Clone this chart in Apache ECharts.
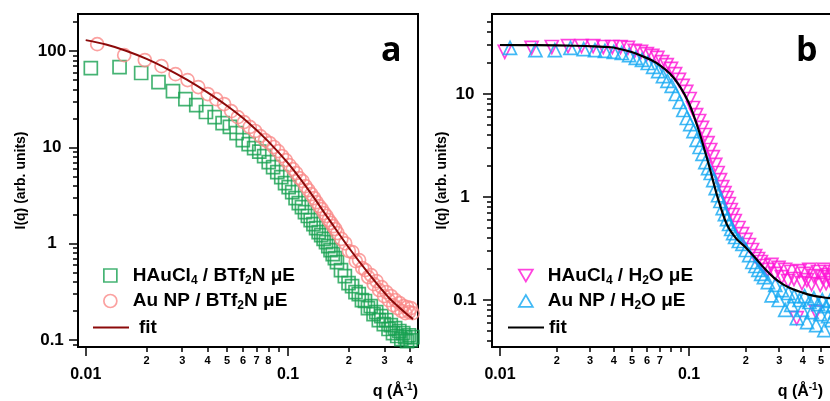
<!DOCTYPE html>
<html><head><meta charset="utf-8">
<script src="https://cdn.jsdelivr.net/npm/echarts@6/dist/echarts.min.js"></script>
<style>html,body{margin:0;padding:0;background:#fff}#c{width:830px;height:401px}</style>
</head><body><div id="c"></div>
<script>
// ---------- Panel a (BTf2N microemulsion) ----------
const qGreenA = [0.0106,0.0147,0.0188,0.0229,0.0270,0.0311,0.0352,0.0393,0.0434,0.0475,0.0516,0.0557,0.0598,0.0639,0.0680,0.0721,0.0762,0.0803,0.0844,0.0885,0.0926,0.0967,0.1008,0.1049,0.1090,0.1131,0.1172,0.1213,0.1254,0.1295,0.1336,0.1377,0.1418,0.1459,0.1500,0.1541,0.1582,0.1623,0.1664,0.1705,0.1746,
  0.1828,0.1910,0.1992,0.2074,0.2156,0.2238,0.2320,0.2402,0.2484,0.2566,0.2648,0.2730,0.2812,0.2894,0.2976,0.3058,0.3140,0.3222,0.3304,0.3386,0.3468,0.3550,0.3632,0.3714,0.3796,0.3878,0.3960,0.4042,0.4124];
const iGreenA = [66.6,68.2,59.2,47.7,38.4,31.7,27.5,23.3,20.6,17.9,16.3,14.1,11.9,10.8,9.84,9.04,8.13,7.04,6.24,5.54,4.92,4.26,3.87,3.43,2.98,2.64,2.40,2.13,1.94,1.76,1.60,1.45,1.32,1.23,1.12,1.04,0.944,0.858,0.780,0.708,0.644,
  0.532,0.461,0.390,0.363,0.314,0.300,0.260,0.254,0.214,0.225,0.186,0.195,0.161,0.177,0.146,0.161,0.130,0.143,0.118,0.133,0.110,0.124,0.102,0.118,0.107,0.0974,0.112,0.0998,0.107];
const qPinkA = [0.0114,0.0155,0.0196,0.0237,0.0278,0.0319,0.0360,0.0401,0.0442,0.0483,0.0524,0.0565,0.0606,0.0647,0.0688,0.0729,0.0770,0.0811,0.0852,0.0893,0.0934,0.0975,0.1016,0.1057,0.1098,0.1139,0.1180,0.1221,0.1262,0.1303,0.1344,0.1385,0.1426,0.1467,0.1508,0.1549,0.1590,0.1631,0.1672,0.1713,0.1754,
  0.1836,0.1918,0.2000,0.2082,0.2164,0.2246,0.2328,0.2410,0.2492,0.2574,0.2656,0.2738,0.2820,0.2902,0.2984,0.3066,0.3148,0.3230,0.3312,0.3394,0.3476,0.3558,0.3640,0.3722,0.3804,0.3886,0.3968,0.4050,0.4132];
const iPinkA = [118,90.8,80.7,69.8,57.6,50.0,42.3,35.8,31.7,28.2,23.8,20.6,18.3,16.3,14.8,13.1,11.9,11.1,10.1,9.15,8.13,7.38,6.55,5.95,5.41,4.80,4.47,3.96,3.60,3.27,2.98,2.70,2.46,2.29,2.08,1.94,1.76,1.64,1.52,1.42,1.29,
  1.12,1.01,0.838,0.818,0.659,0.676,0.558,0.532,0.450,0.472,0.380,0.409,0.330,0.354,0.286,0.314,0.259,0.286,0.230,0.259,0.214,0.242,0.200,0.225,0.190,0.219,0.195,0.214,0.190];
const qFitA = [0.0100,0.0126,0.0158,0.0200,0.0251,0.0316,0.0398,0.0501,0.0631,0.0794,0.1000,0.1259,0.1585,0.1995,0.2512,0.3162,0.3981,0.4150];
const iFitA = [130,117,101,83.0,65.9,50.6,37.5,26.9,18.4,11.7,6.85,3.64,1.82,0.913,0.485,0.273,0.176,0.165];

// ---------- Panel b (H2O microemulsion) ----------
const qMagB = [0.0106,0.0147,0.0188,0.0229,0.0270,0.0311,0.0352,0.0393,0.0434,0.0475,0.0516,0.0557,0.0598,0.0639,0.0680,0.0721,0.0762,0.0803,0.0844,0.0885,0.0926,0.0967,0.1008,0.1049,0.1090,0.1131,0.1172,0.1213,0.1254,0.1295,0.1336,0.1377,0.1418,0.1459,0.1500,0.1541,0.1582,0.1623,0.1664,0.1705,0.1746,
  0.1828,0.1910,0.1992,0.2074,0.2156,0.2238,0.2320,0.2402,0.2484,
  0.2607,0.2730,0.2853,0.2976,0.3099,0.3222,0.3345,0.3468,0.3591,0.3714,0.3837,0.3960,0.4083,0.4206,0.4329,0.4452,0.4575,0.4698,0.4821,0.4944,0.5067,0.5190,0.5313,0.5436,0.5559,0.5682,0.5805,0.5928];
const iMagB = [25.6,28.0,28.6,29.2,29.2,29.2,28.6,28.6,28.6,28.0,26.2,25.6,24.4,23.4,22.4,20.4,19.1,17.5,15.6,13.7,12.0,10.5,8.94,7.31,6.25,5.47,4.68,4.00,3.34,2.86,2.44,2.05,1.71,1.46,1.25,1.09,0.978,0.855,0.748,0.669,0.585,
  0.500,0.437,0.383,0.342,0.306,0.267,0.250,0.234,0.214,
  0.196,0.219,0.179,0.205,0.167,0.196,0.153,0.187,0.160,0.0668,0.191,0.146,0.179,0.156,0.196,0.143,0.171,0.0764,0.187,0.140,0.167,0.196,0.146,0.175,0.156,0.187,0.137,0.171];
const qCyanB = [0.0113,0.0154,0.0195,0.0236,0.0277,0.0318,0.0359,0.0400,0.0441,0.0482,0.0523,0.0564,0.0605,0.0646,0.0687,0.0728,0.0769,0.0810,0.0851,0.0892,0.0933,0.0974,0.1015,0.1056,0.1097,0.1138,0.1179,0.1220,0.1261,0.1302,0.1343,0.1384,0.1425,0.1466,0.1507,0.1548,0.1589,0.1630,0.1671,0.1712,0.1753,
  0.1835,0.1917,0.1999,0.2081,0.2163,0.2245,0.2327,0.2409,0.2491,
  0.2614,0.2737,0.2860,0.2983,0.3106,0.3229,0.3352,0.3475,0.3598,0.3721,0.3844,0.3967,0.4090,0.4213,0.4336,0.4459,0.4582,0.4705,0.4828,0.4951,0.5074,0.5197,0.5320,0.5443,0.5566,0.5689,0.5812,0.5935];
const iCyanB = [28.0,26.7,26.7,28.0,27.3,26.7,26.2,25.6,25.0,23.9,22.4,21.4,20.0,18.3,16.7,14.9,13.4,12.0,10.0,8.36,6.99,5.85,5.11,4.37,3.58,3.06,2.62,2.18,1.91,1.71,1.46,1.22,1.04,0.915,0.781,0.683,0.611,0.547,0.489,0.447,0.409,
  0.374,0.350,0.306,0.273,0.234,0.214,0.196,0.179,0.167,
  0.149,0.111,0.140,0.100,0.125,0.0803,0.117,0.0897,0.109,0.0668,0.100,0.0803,0.109,0.0611,0.0956,0.0764,0.104,0.0571,0.0914,0.0730,0.100,0.0510,0.0874,0.0698,0.0978,0.0639,0.0897,0.0764];
const qFitB = [0.0100,0.0158,0.0251,0.0316,0.0398,0.0501,0.0562,0.0631,0.0708,0.0794,0.0891,0.1000,0.1122,0.1259,0.1413,0.1585,0.1778,0.1995,0.2239,0.2512,0.2818,0.3162,0.3548,0.3981,0.4467,0.5012,0.5623,0.6026];
const iFitB = [29.9,29.8,29.4,29.0,28.3,25.4,23.4,21.4,18.8,15.7,12.0,8.13,4.52,2.21,1.01,0.543,0.394,0.324,0.257,0.202,0.164,0.141,0.127,0.118,0.111,0.107,0.104,0.103];

// ---------- Axis ranges & tick values ----------
const xRangeA = [0.00916, 0.4392], yRangeA = [0.08458, 242.8];
const xRangeB = [0.009072, 0.5994], yRangeB = [0.03498, 59.8];
const xMajorA = [0.01, 0.1];
const xMinorA = [0.02,0.03,0.04,0.05,0.06,0.07,0.08,0.09,0.2,0.3,0.4];
const xMinorLabA = [0.02,0.03,0.04,0.05,0.06,0.07,0.08,0.2,0.3,0.4];
const yMajorA = [0.1, 1, 10, 100];
const yMinorA = [0.09,0.2,0.3,0.4,0.5,0.6,0.7,0.8,0.9,2,3,4,5,6,7,8,9,20,30,40,50,60,70,80,90,200];
const xMajorB = [0.01, 0.1];
const xMinorB = [0.02,0.03,0.04,0.05,0.06,0.07,0.08,0.09,0.2,0.3,0.4,0.5];
const xMinorLabB = [0.02,0.03,0.04,0.05,0.06,0.07,0.2,0.3,0.4,0.5];
const yMajorB = [0.1, 1, 10];
const yMinorB = [0.04,0.05,0.06,0.07,0.08,0.09,0.2,0.3,0.4,0.5,0.6,0.7,0.8,0.9,2,3,4,5,6,7,8,9,20,30,40,50];

const names = {
  gA: 'HAuCl4 / BTf2N μE', pA: 'Au NP / BTf2N μE', fA: 'fitA',
  mB: 'HAuCl4 / H2O μE', cB: 'Au NP / H2O μE', fB: 'fitB'
};
const richNames = {
  'HAuCl4 / BTf2N μE': '{n|HAuCl}{s|4}{n| / BTf}{s|2}{n|N μE}',
  'Au NP / BTf2N μE': '{n|Au NP / BTf}{s|2}{n|N μE}',
  'HAuCl4 / H2O μE': '{n|HAuCl}{s|4}{n| / H}{s|2}{n|O μE}',
  'Au NP / H2O μE': '{n|Au NP / H}{s|2}{n|O μE}',
  'fitA': '{n|fit}', 'fitB': '{n|fit}'
};

const C = { green:'#17a050', pink:'#fa8a88', dred:'#8c0a0a', mag:'#ff14d6', cyan:'#12a8f2' };
const FONT = 'Liberation Sans, Arial, sans-serif';
const NARROW = 'Liberation Sans Narrow, Liberation Sans, Arial, sans-serif';
const L = Math.log10;
const zip = (q, v) => q.slice(0, Math.min(q.length, v.length)).map((x, i) => [x, v[i]]);
const fmtMajor = v => String(parseFloat(Math.pow(10, v).toPrecision(3)));
const fmtMinor = v => { const t = Math.pow(10, v); return String(Math.round(t / Math.pow(10, Math.floor(L(t) + 1e-9)))); };

function logAxis(grid, r) { return { type:'log', gridIndex:grid, min:r[0], max:r[1], show:false }; }
function ovX(grid, r, ticks, labs, tlen, margin, fsize, family, fmt, extra) {
  return Object.assign({
    type:'value', gridIndex:grid, min:L(r[0]), max:L(r[1]), position:'bottom',
    axisLine:{show:false, onZero:false}, splitLine:{show:false},
    axisTick:{show:true, inside:false, length:tlen, customValues:ticks.map(L), lineStyle:{color:'#000', width:1.5}},
    axisLabel:{show:true, customValues:labs.map(L), margin:margin, formatter:fmt, fontSize:fsize, fontWeight:'bold', fontFamily:family, color:'#000'}
  }, extra || {});
}
function ovY(grid, r, ticks, labs, tlen, margin, fsize, fmt, extra) {
  return Object.assign({
    type:'value', gridIndex:grid, min:L(r[0]), max:L(r[1]), position:'left',
    axisLine:{show:false, onZero:false}, splitLine:{show:false},
    axisTick:{show:true, inside:false, length:tlen, customValues:ticks.map(L), lineStyle:{color:'#000', width:1.5}},
    axisLabel:{show:labs.length>0, customValues:labs.map(L), margin:margin, align:'center', formatter:fmt, fontSize:fsize, fontWeight:'bold', fontFamily:FONT, color:'#000'}
  }, extra || {});
}
const xName = {
  name:'{n|q (Å}{s|-1}{n|)}', nameLocation:'end',
  nameTextStyle:{align:'right', verticalAlign:'top', padding:[35,0,0,0],
    rich:{ n:{fontSize:16, fontWeight:'bold', fontFamily:FONT, color:'#000', lineHeight:20},
           s:{fontSize:10, fontWeight:'bold', fontFamily:FONT, color:'#000', lineHeight:10, verticalAlign:'top'} } }
};
const yNameStyle = {fontSize:14, fontWeight:'bold', fontFamily:FONT, color:'#000'};

const legText = {
  rich:{ n:{fontSize:19, fontWeight:'bold', fontFamily:FONT, color:'#000', lineHeight:22},
         s:{fontSize:12, fontWeight:'bold', fontFamily:FONT, color:'#000', lineHeight:12, verticalAlign:'bottom'} }
};
const legFmt = n => richNames[n] || n;
function emptyStyle(c){ return {color:'rgba(0,0,0,0)', borderColor:c, borderWidth:1.7}; }
const noSym = {color:'rgba(0,0,0,0)', borderColor:'rgba(0,0,0,0)', borderWidth:0};

const option = {
  animation:false,
  backgroundColor:'#fff',
  grid:[
    {left:78, top:14, width:340, height:333, outerBoundsMode:'none', show:true, borderColor:'#000', borderWidth:2, backgroundColor:'rgba(0,0,0,0)'},
    {left:492, top:14, width:344, height:333, outerBoundsMode:'none', show:true, borderColor:'#000', borderWidth:2, backgroundColor:'rgba(0,0,0,0)'}
  ],
  xAxis:[
    logAxis(0, xRangeA),
    ovX(0, xRangeA, xMajorA, xMajorA, 9, 20, 16, FONT, fmtMajor, Object.assign({nameGap:0}, xName)),
    ovX(0, xRangeA, xMinorA, xMinorLabA, 5, 8, 11, NARROW, fmtMinor),
    logAxis(1, xRangeB),
    ovX(1, xRangeB, xMajorB, xMajorB, 9, 20, 16, FONT, fmtMajor, Object.assign({nameGap:-13}, xName)),
    ovX(1, xRangeB, xMinorB, xMinorLabB, 5, 8, 11, NARROW, fmtMinor)
  ],
  yAxis:[
    logAxis(0, yRangeA),
    ovY(0, yRangeA, yMajorA, yMajorA, 9, 26, 17, fmtMajor, {name:'I(q) (arb. units)', nameLocation:'middle', nameGap:50, nameTextStyle:yNameStyle}),
    ovY(0, yRangeA, yMinorA, [], 5, 8, 11, fmtMinor),
    logAxis(1, yRangeB),
    ovY(1, yRangeB, yMajorB, yMajorB, 9, 27, 17, fmtMajor, {name:'I(q) (arb. units)', nameLocation:'middle', nameGap:40, nameTextStyle:yNameStyle}),
    ovY(1, yRangeB, yMinorB, [], 5, 8, 11, fmtMinor)
  ],
  legend:[
    {orient:'vertical', left:103, top:266, padding:0, itemWidth:13, itemHeight:13, itemGap:5, selectedMode:false,
     formatter:legFmt, textStyle:Object.assign({padding:[0,0,0,11]}, legText),
     data:[{name:names.gA, icon:'rect', itemStyle:emptyStyle(C.green)},
           {name:names.pA, icon:'circle', itemStyle:emptyStyle(C.pink)}]},
    {orient:'vertical', left:92, top:318, padding:0, itemWidth:36, itemHeight:14, selectedMode:false,
     formatter:legFmt, textStyle:Object.assign({padding:[0,0,0,5]}, legText),
     data:[{name:names.fA, itemStyle:noSym}]},
    {orient:'vertical', left:518, top:266, padding:0, itemWidth:14, itemHeight:13, itemGap:5, selectedMode:false,
     formatter:legFmt, textStyle:Object.assign({padding:[0,0,0,10]}, legText),
     data:[{name:names.mB, icon:'path://M0,0L20,0L10,17Z', itemStyle:emptyStyle(C.mag)},
           {name:names.cB, icon:'path://M10,0L20,17L0,17Z', itemStyle:emptyStyle(C.cyan)}]},
    {orient:'vertical', left:507, top:318, padding:0, itemWidth:36, itemHeight:14, selectedMode:false,
     formatter:legFmt, textStyle:Object.assign({padding:[0,0,0,0]}, legText),
     data:[{name:names.fB, itemStyle:noSym}]}
  ],
  series:[
    {name:names.gA, type:'scatter', xAxisIndex:0, yAxisIndex:0, symbol:'rect', symbolSize:13,
     itemStyle:emptyStyle(C.green), data:zip(qGreenA, iGreenA), z:2},
    {name:names.pA, type:'scatter', xAxisIndex:0, yAxisIndex:0, symbol:'circle', symbolSize:13,
     itemStyle:emptyStyle(C.pink), data:zip(qPinkA, iPinkA), z:3},
    {name:names.fA, type:'line', xAxisIndex:0, yAxisIndex:0, symbol:'none', smooth:0.3,
     lineStyle:{color:C.dred, width:2}, itemStyle:{color:C.dred}, data:zip(qFitA, iFitA), z:4},
    {name:names.mB, type:'scatter', xAxisIndex:3, yAxisIndex:3, symbol:'triangle', symbolRotate:180, symbolSize:13,
     itemStyle:emptyStyle(C.mag), data:zip(qMagB, iMagB), z:2},
    {name:names.cB, type:'scatter', xAxisIndex:3, yAxisIndex:3, symbol:'triangle', symbolSize:13,
     itemStyle:emptyStyle(C.cyan), data:zip(qCyanB, iCyanB), z:3},
    {name:names.fB, type:'line', xAxisIndex:3, yAxisIndex:3, symbol:'none', smooth:0.3,
     lineStyle:{color:'#000', width:2.2}, itemStyle:{color:'#000'}, data:zip(qFitB, iFitB), z:4}
  ],
  graphic:[
    {type:'text', left:381, top:34, style:{text:'a', font:'bold 34px "Open Sans", sans-serif', fill:'#000'}, z:10},
    {type:'text', left:796, top:34, style:{text:'b', font:'bold 34px "Open Sans", sans-serif', fill:'#000'}, z:10}
  ]
};
const chart = echarts.init(document.getElementById('c'));
chart.setOption(option);
</script></body></html>
